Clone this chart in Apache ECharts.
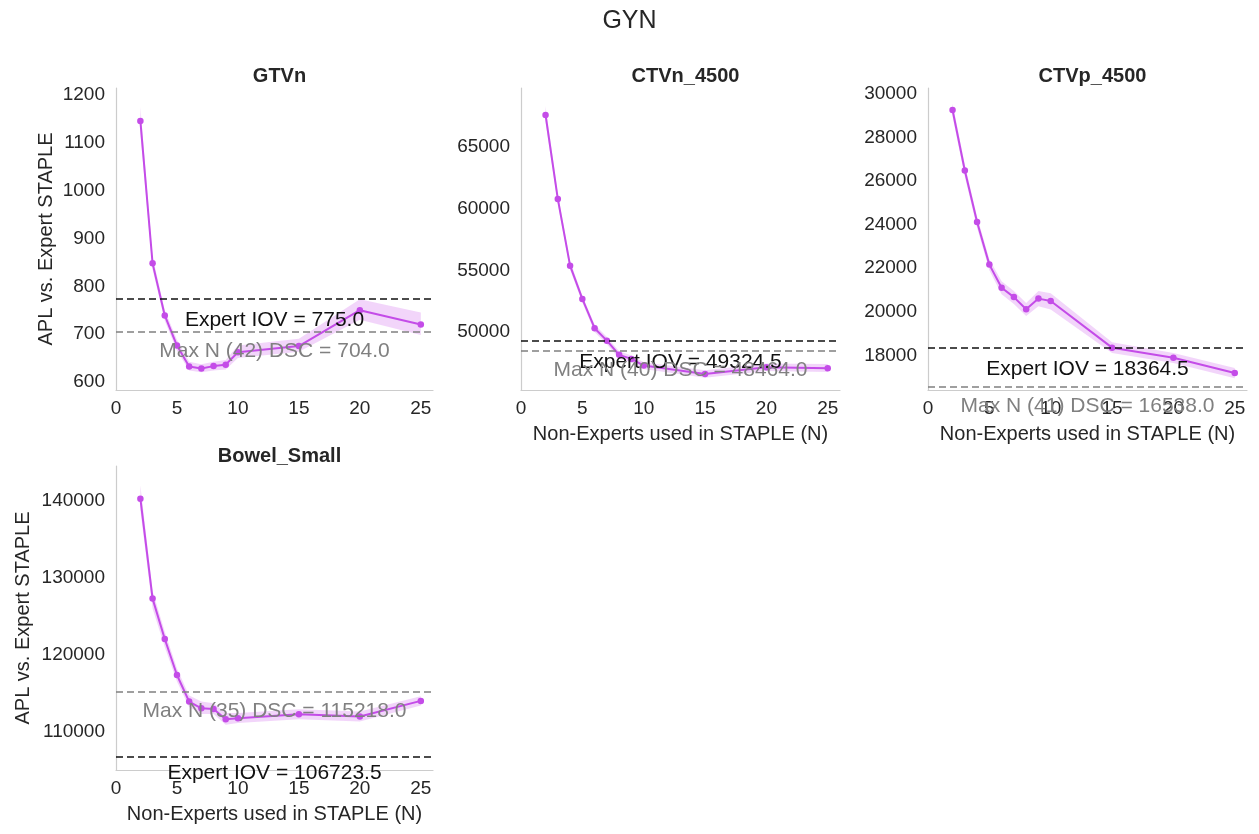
<!DOCTYPE html>
<html>
<head>
<meta charset="utf-8">
<script src="https://cdn.jsdelivr.net/npm/echarts@6/dist/echarts.min.js"></script>
<style>
html,body{margin:0;padding:0;background:#fff;}
#chart{width:1259px;height:834px;}
</style>
</head>
<body>
<div id="chart"></div>
<script>
// ---- data ----
const nValues = [2, 3, 4, 5, 6, 7, 8, 9, 10, 15, 20, 25];
const panelTitles = ['GTVn', 'CTVn_4500', 'CTVp_4500', 'Bowel_Small'];

const gtvnMean  = [1146, 848, 739, 676, 632, 628, 633, 636, 662, 675, 750, 720];
const gtvnLower = [1120, 835, 728, 665, 624, 620, 624, 626, 650, 663, 730, 698];
const gtvnUpper = [1175, 862, 750, 688, 642, 637, 642, 646, 676, 690, 773, 745];

const ctvnMean  = [67600, 60790, 55380, 52680, 50310, 49300, 48150, 47820, 47280, 46600, 47140, 47070];
const ctvnLower = [67000, 60400, 55050, 52400, 50000, 49000, 47850, 47550, 47000, 46300, 46850, 46750];
const ctvnUpper = [68300, 61200, 55750, 52950, 50600, 49600, 48450, 48100, 47550, 46900, 47450, 47400];

const ctvpMean  = [29250, 26480, 24110, 22160, 21100, 20670, 20110, 20600, 20490, 18350, 17890, 17190];
const ctvpLower = [28950, 26200, 23850, 21900, 20800, 20350, 19800, 20250, 20100, 18100, 17650, 16950];
const ctvpUpper = [29550, 26750, 24350, 22400, 21400, 20950, 20400, 20950, 20850, 18600, 18100, 17420];

const bowelMean  = [140300, 127300, 122040, 117360, 113900, 113030, 112950, 111600, 111730, 112250, 111950, 113990];
const bowelLower = [138800, 126000, 121000, 116500, 113200, 112300, 112300, 110900, 111100, 111600, 111300, 113400];
const bowelUpper = [142000, 128300, 123000, 118200, 114700, 113900, 113700, 112400, 112400, 112900, 112600, 114600];

const expertIOV = [775.0, 49324.5, 18364.5, 106723.5];
const maxNCount = [42, 40, 41, 35];
const maxNDSC   = [704.0, 48464.0, 16538.0, 115218.0];

const yMin = [583, 45300, 16408, 105000];
const yMax = [1215, 69780, 30261, 144550];
const ySplit = [6, 5, 7, 4];

const xAxisName = 'Non-Experts used in STAPLE (N)';
const yAxisName = 'APL vs. Expert STAPLE';
const figTitle = 'GYN';

// ---- layout / styles ----
const means = [gtvnMean, ctvnMean, ctvpMean, bowelMean];
const lowers = [gtvnLower, ctvnLower, ctvpLower, bowelLower];
const uppers = [gtvnUpper, ctvnUpper, ctvpUpper, bowelUpper];

const grids = [
  {left: 116, top: 88, width: 317, height: 302},
  {left: 521, top: 88, width: 319, height: 302},
  {left: 928, top: 88, width: 319, height: 302},
  {left: 116, top: 466, width: 317, height: 304}
];
const FONT = '"Liberation Sans", Arial, sans-serif';
const TXT = '#262626';
const LINE = '#c44ce8';
const BAND = 'rgba(200, 80, 235, 0.24)';

const titles = [{
  text: figTitle, left: 'center', top: 4,
  textStyle: {fontFamily: FONT, fontSize: 25, fontWeight: 'normal', color: TXT}
}];
const xAxes = [], yAxes = [], series = [];

grids.forEach((g, i) => {
  titles.push({
    text: panelTitles[i], left: g.left + g.width / 2, top: i === 3 ? g.top - 25 : g.top - 27, textAlign: 'center',
    textStyle: {fontFamily: FONT, fontSize: 20, fontWeight: 'bold', color: TXT}
  });
  xAxes.push({
    type: 'value', gridIndex: i, min: 0, max: 26, splitNumber: 5,
    name: i === 0 ? '' : xAxisName, nameLocation: 'middle', nameGap: 34,
    nameTextStyle: {fontFamily: FONT, fontSize: 20, color: TXT},
    axisLine: {show: true, lineStyle: {color: '#cccccc', width: 1.2}},
    axisTick: {show: false}, splitLine: {show: false},
    axisLabel: {fontFamily: FONT, fontSize: 19, color: TXT, margin: 9, showMaxLabel: false,
                formatter: v => String(v)}
  });
  yAxes.push({
    type: 'value', gridIndex: i, min: yMin[i], max: yMax[i], splitNumber: ySplit[i],
    name: (i === 0 || i === 3) ? yAxisName : '', nameLocation: 'middle',
    nameGap: i === 0 ? 60 : 83, nameRotate: 90,
    nameTextStyle: {fontFamily: FONT, fontSize: 20, color: TXT},
    axisLine: {show: true, lineStyle: {color: '#cccccc', width: 1.2}},
    axisTick: {show: false}, splitLine: {show: false},
    axisLabel: {fontFamily: FONT, fontSize: 19, color: TXT, margin: 11, showMinLabel: false, showMaxLabel: false,
                formatter: v => String(v)}
  });
  series.push({
    type: 'custom', xAxisIndex: i, yAxisIndex: i, silent: true, z: 1,
    data: nValues.map((n, k) => [n, lowers[i][k], uppers[i][k]]),
    encode: {x: 0, y: [1, 2]},
    renderItem: (params, api) => {
      if (params.dataIndex !== 0) return null;
      const pts = [];
      nValues.forEach((n, k) => pts.push(api.coord([n, uppers[i][k]])));
      for (let k = nValues.length - 1; k >= 0; k--) pts.push(api.coord([nValues[k], lowers[i][k]]));
      return {type: 'polygon', shape: {points: pts}, style: {fill: BAND}};
    }
  });
  series.push({
    type: 'line', xAxisIndex: i, yAxisIndex: i, z: 3,
    symbol: 'circle', symbolSize: 6.5,
    lineStyle: {color: LINE, width: 2},
    itemStyle: {color: LINE},
    data: nValues.map((n, k) => [n, means[i][k]]),
    markLine: {
      silent: true, symbol: ['none', 'none'], z: 5,
      data: [
        {yAxis: expertIOV[i],
         lineStyle: {color: '#111', type: [7, 4], width: 1.6},
         label: {show: true, position: 'insideMiddleBottom', distance: i === 3 ? 6 : 11,
                 formatter: 'Expert IOV = ' + expertIOV[i].toFixed(1),
                 fontFamily: FONT, fontSize: 21, color: '#111'}},
        {yAxis: maxNDSC[i],
         lineStyle: {color: '#808080', type: [7, 4], width: 1.6},
         label: {show: true, position: 'insideMiddleBottom', distance: 9,
                 formatter: 'Max N (' + maxNCount[i] + ') DSC = ' + maxNDSC[i].toFixed(1),
                 fontFamily: FONT, fontSize: 21, color: '#808080'}}
      ]
    }
  });
});

const chart = echarts.init(document.getElementById('chart'), null, {renderer: 'canvas'});
chart.setOption({
  backgroundColor: '#ffffff',
  animation: false,
  title: titles,
  grid: grids,
  xAxis: xAxes,
  yAxis: yAxes,
  series: series
});
</script>
</body>
</html>
